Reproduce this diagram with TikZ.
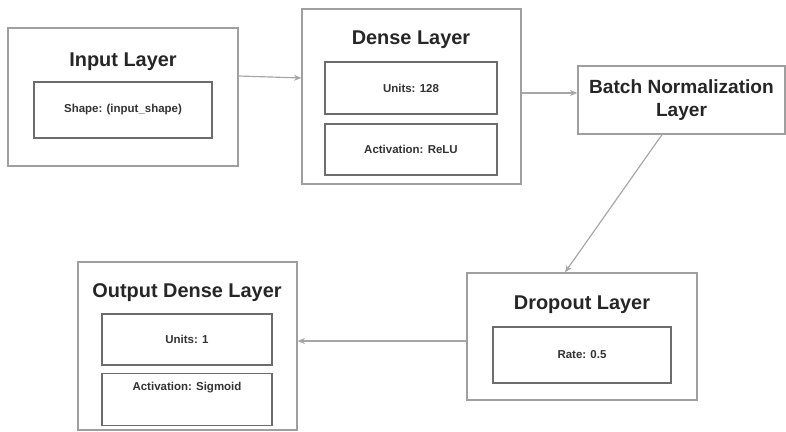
\documentclass[tikz,border=0pt]{standalone}
\usepackage{fontspec}
\setmainfont{Liberation Sans}
\usetikzlibrary{positioning,arrows.meta,calc}

\begin{document}
\begin{tikzpicture}[
  x=0.03cm, y=-0.03cm,
  layer/.style={rectangle, draw=gray!75, line width=1.1pt, fill=white, inner sep=0pt},
  field/.style={rectangle, draw=gray!85!black, line width=0.9pt, align=center, font=\fontsize{9.8}{11}\selectfont\bfseries, text=black!80, inner sep=0pt},
  title/.style={font=\fontsize{17}{20}\selectfont\bfseries, text=black!85, align=center},
  arrow/.style={-{Stealth[length=2.2mm, width=1.8mm]}, draw=gray!70, line width=1pt},
]
\useasboundingbox (0,0) rectangle (786,432);

% Input layer
\node[layer, minimum width=6.9cm, minimum height=4.14cm] (inp) at (123,97) {};
\node[title] (inpT) at (123,62) {Input Layer};
\node[field, minimum width=5.34cm, minimum height=1.68cm] (inpS) at (123,110) {Shape: (input\_shape)};

% Dense layer
\node[layer, minimum width=6.57cm, minimum height=5.25cm] (dns) at (411.5,96.5) {};
\node[title] (dnsT) at (411,40) {Dense Layer};
\node[field, minimum width=5.16cm, minimum height=1.56cm] (dnsU) at (411,88) {Units: 128};
\node[field, minimum width=5.16cm, minimum height=1.53cm] (dnsA) at (411,149.5) {Activation: ReLU};

% Batch normalization
\node[layer, minimum width=6.21cm, minimum height=2.04cm, title, font=\fontsize{16.3}{20}\selectfont\bfseries] (bn) at (681.5,100) {Batch Normalization\\Layer};

% Dropout layer
\node[layer, minimum width=6.9cm, minimum height=3.81cm] (drp) at (582,336.5) {};
\node[title] (drpT) at (582,305) {Dropout Layer};
\node[field, minimum width=5.34cm, minimum height=1.68cm] (drpR) at (582,355) {Rate: 0.5};

% Output dense layer
\node[layer, minimum width=6.57cm, minimum height=5.04cm] (out) at (187.5,346) {};
\node[title] (outT) at (187,293) {Output Dense Layer};
\node[field, minimum width=5.1cm, minimum height=1.53cm] (outU) at (187,339.5) {Units: 1};
\node[field, minimum width=5.1cm, minimum height=1.56cm, anchor=north] (outA) at (187,373) {};
\node[field, draw=none] (outAT) at (187,388) {Activation: Sigmoid};

% Flow arrows
\draw[arrow] (inp.east |- 0,76) -- (dns.west |- 0,78);
\draw[arrow] (dns.east |- 0,93) -- (bn.west |- 0,93);
\draw[arrow] (bn.south -| 662,0) -- (drp.north -| 565,0);
\draw[arrow] (drp.west |- 0,341) -- (out.east |- 0,341);

\end{tikzpicture}
\end{document}
